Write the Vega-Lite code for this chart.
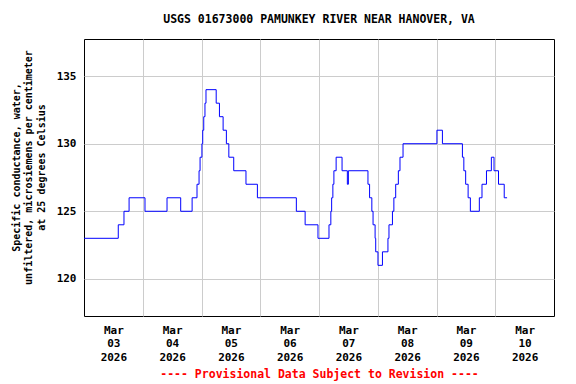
{
  "$schema": "https://vega.github.io/schema/vega-lite/v6.json",
  "width": 470,
  "height": 277,
  "autosize": "none",
  "padding": {"left": 84, "top": 39, "right": 22, "bottom": 68},
  "background": "white",
  "config": {
    "font": "DejaVu Sans Mono",
    "view": {"stroke": "black", "strokeWidth": 1}
  },
  "title": {
    "text": "USGS 01673000 PAMUNKEY RIVER NEAR HANOVER, VA",
    "font": "DejaVu Sans Mono",
    "fontSize": 11.5,
    "fontWeight": "bold",
    "color": "black",
    "anchor": "middle",
    "offset": 14
  },
  "data": {
    "values": [
      {"time": "2026-03-03T00:00", "value": 123},
      {"time": "2026-03-03T14:00", "value": 124},
      {"time": "2026-03-03T16:20", "value": 125},
      {"time": "2026-03-03T18:25", "value": 126},
      {"time": "2026-03-04T00:55", "value": 125},
      {"time": "2026-03-04T09:55", "value": 126},
      {"time": "2026-03-04T15:30", "value": 125},
      {"time": "2026-03-04T20:10", "value": 126},
      {"time": "2026-03-04T22:10", "value": 127},
      {"time": "2026-03-04T23:00", "value": 128},
      {"time": "2026-03-04T23:25", "value": 129},
      {"time": "2026-03-05T00:10", "value": 130},
      {"time": "2026-03-05T00:30", "value": 131},
      {"time": "2026-03-05T00:55", "value": 132},
      {"time": "2026-03-05T01:25", "value": 133},
      {"time": "2026-03-05T01:50", "value": 134},
      {"time": "2026-03-05T06:00", "value": 133},
      {"time": "2026-03-05T07:20", "value": 132},
      {"time": "2026-03-05T08:50", "value": 131},
      {"time": "2026-03-05T10:10", "value": 130},
      {"time": "2026-03-05T11:10", "value": 129},
      {"time": "2026-03-05T13:10", "value": 128},
      {"time": "2026-03-05T18:10", "value": 127},
      {"time": "2026-03-05T22:50", "value": 126},
      {"time": "2026-03-06T14:45", "value": 125},
      {"time": "2026-03-06T18:20", "value": 124},
      {"time": "2026-03-06T23:35", "value": 123},
      {"time": "2026-03-07T04:05", "value": 124},
      {"time": "2026-03-07T04:50", "value": 125},
      {"time": "2026-03-07T05:10", "value": 126},
      {"time": "2026-03-07T05:40", "value": 127},
      {"time": "2026-03-07T06:05", "value": 128},
      {"time": "2026-03-07T07:00", "value": 129},
      {"time": "2026-03-07T09:25", "value": 128},
      {"time": "2026-03-07T11:35", "value": 127},
      {"time": "2026-03-07T12:00", "value": 128},
      {"time": "2026-03-07T20:00", "value": 127},
      {"time": "2026-03-07T20:40", "value": 126},
      {"time": "2026-03-07T21:35", "value": 125},
      {"time": "2026-03-07T22:05", "value": 124},
      {"time": "2026-03-07T22:55", "value": 123},
      {"time": "2026-03-07T23:10", "value": 122},
      {"time": "2026-03-08T00:05", "value": 121},
      {"time": "2026-03-08T01:55", "value": 122},
      {"time": "2026-03-08T04:10", "value": 123},
      {"time": "2026-03-08T04:35", "value": 124},
      {"time": "2026-03-08T06:00", "value": 125},
      {"time": "2026-03-08T06:35", "value": 126},
      {"time": "2026-03-08T07:20", "value": 127},
      {"time": "2026-03-08T08:25", "value": 128},
      {"time": "2026-03-08T09:05", "value": 129},
      {"time": "2026-03-08T10:20", "value": 130},
      {"time": "2026-03-09T00:10", "value": 131},
      {"time": "2026-03-09T02:25", "value": 130},
      {"time": "2026-03-09T10:35", "value": 129},
      {"time": "2026-03-09T11:10", "value": 128},
      {"time": "2026-03-09T11:55", "value": 127},
      {"time": "2026-03-09T12:55", "value": 126},
      {"time": "2026-03-09T13:50", "value": 125},
      {"time": "2026-03-09T17:30", "value": 126},
      {"time": "2026-03-09T18:35", "value": 127},
      {"time": "2026-03-09T20:25", "value": 128},
      {"time": "2026-03-09T22:25", "value": 129},
      {"time": "2026-03-09T23:30", "value": 128},
      {"time": "2026-03-10T01:20", "value": 127},
      {"time": "2026-03-10T03:40", "value": 126},
      {"time": "2026-03-10T04:50", "value": 126}
    ]
  },
  "mark": {"type": "line", "interpolate": "step-after", "color": "#0000ff", "strokeWidth": 1, "clip": true},
  "encoding": {
    "x": {
      "field": "time",
      "type": "temporal",
      "scale": {
        "domain": [
          {"year": 2026, "month": 3, "date": 3, "hours": 0},
          {"year": 2026, "month": 3, "date": 11, "hours": 0}
        ]
      },
      "axis": {
        "values": [
          {"year": 2026, "month": 3, "date": 3, "hours": 12},
          {"year": 2026, "month": 3, "date": 4, "hours": 0},
          {"year": 2026, "month": 3, "date": 4, "hours": 12},
          {"year": 2026, "month": 3, "date": 5, "hours": 0},
          {"year": 2026, "month": 3, "date": 5, "hours": 12},
          {"year": 2026, "month": 3, "date": 6, "hours": 0},
          {"year": 2026, "month": 3, "date": 6, "hours": 12},
          {"year": 2026, "month": 3, "date": 7, "hours": 0},
          {"year": 2026, "month": 3, "date": 7, "hours": 12},
          {"year": 2026, "month": 3, "date": 8, "hours": 0},
          {"year": 2026, "month": 3, "date": 8, "hours": 12},
          {"year": 2026, "month": 3, "date": 9, "hours": 0},
          {"year": 2026, "month": 3, "date": 9, "hours": 12},
          {"year": 2026, "month": 3, "date": 10, "hours": 0},
          {"year": 2026, "month": 3, "date": 10, "hours": 12}
        ],
        "labelExpr": "hours(datum.value) == 12 ? [timeFormat(datum.value, '%b'), timeFormat(datum.value, '%d'), timeFormat(datum.value, '%Y')] : ''",
        "labelFont": "DejaVu Sans Mono",
        "labelFontSize": 11,
        "labelFontWeight": "bold",
        "labelColor": "black",
        "labelLineHeight": 13.5,
        "labelPadding": 8,
        "labelOverlap": false,
        "labelFlush": false,
        "ticks": false,
        "domain": false,
        "grid": true,
        "gridColor": "#cccccc",
        "gridWidth": 1,
        "gridOpacity": {"condition": {"test": "hours(datum.value) == 12", "value": 0}, "value": 1},
        "title": "---- Provisional Data Subject to Revision ----",
        "titleColor": "#ff0000",
        "titleFont": "DejaVu Sans Mono",
        "titleFontSize": 11.5,
        "titleFontWeight": "bold",
        "titlePadding": 6
      }
    },
    "y": {
      "field": "value",
      "type": "quantitative",
      "scale": {"domain": [117.25, 137.75], "nice": false, "zero": false},
      "axis": {
        "values": [120, 125, 130, 135],
        "labelFont": "DejaVu Sans Mono",
        "labelFontSize": 11,
        "labelFontWeight": "bold",
        "labelColor": "black",
        "labelPadding": 8,
        "ticks": false,
        "domain": false,
        "grid": true,
        "gridColor": "#cccccc",
        "gridWidth": 1,
        "title": ["Specific conductance, water,", "unfiltered, microsiemens per centimeter", "at 25 degrees Celsius"],
        "titleFont": "DejaVu Sans Mono",
        "titleFontSize": 10,
        "titleFontWeight": "bold",
        "titleColor": "black",
        "titleLineHeight": 12.5,
        "titlePadding": 10,
        "titleY": 128
      }
    }
  }
}
